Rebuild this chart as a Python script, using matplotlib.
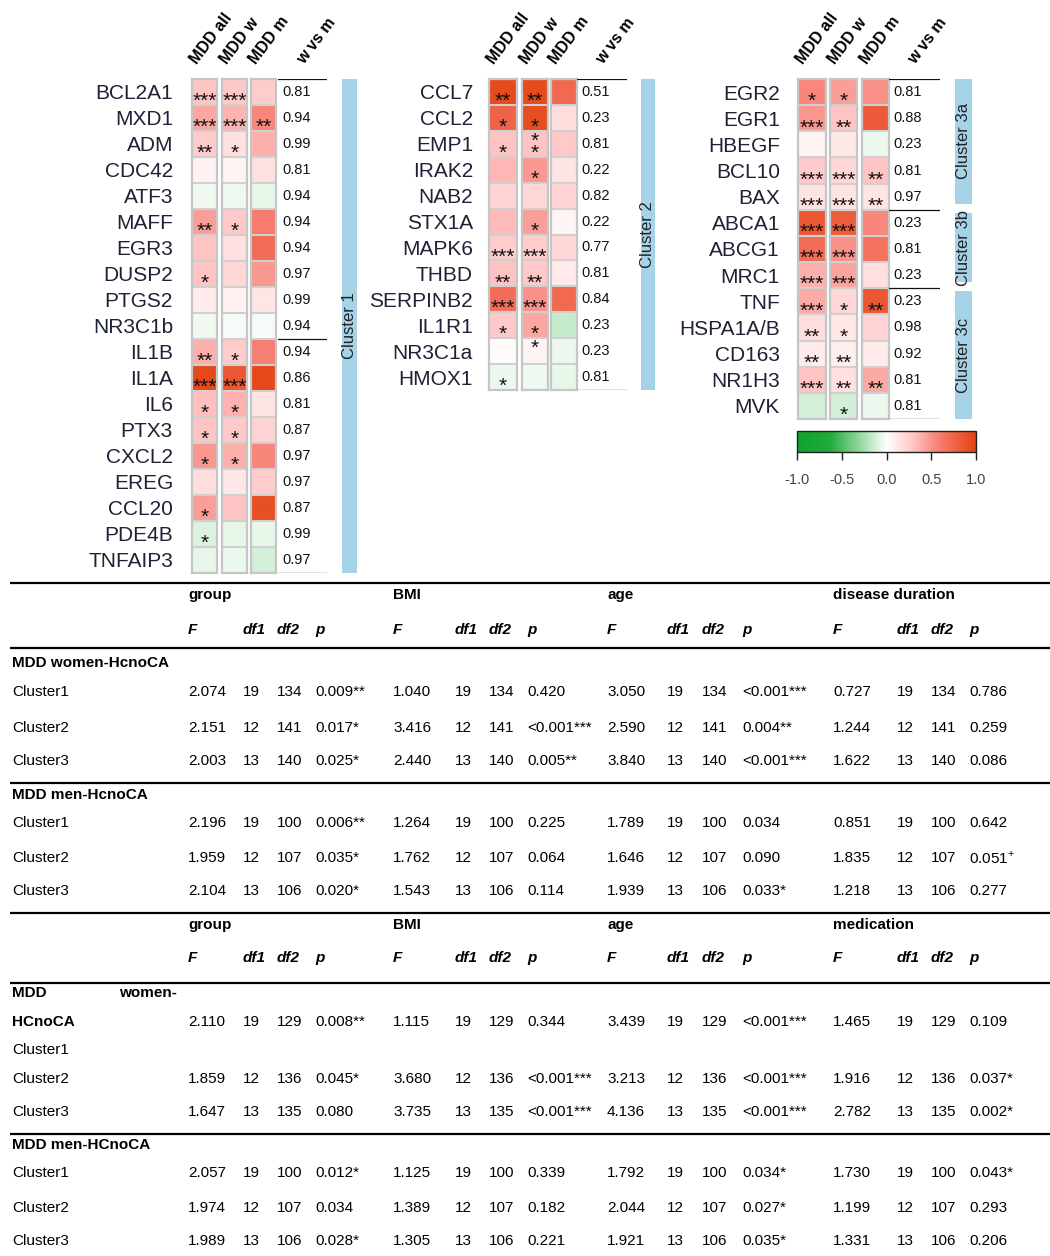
import numpy as np
import matplotlib
matplotlib.use("Agg")
import matplotlib.pyplot as plt
from matplotlib.colors import LinearSegmentedColormap, Normalize
from matplotlib.cm import ScalarMappable
from matplotlib.transforms import ScaledTranslation

plt.rcParams['font.family'] = ['Liberation Sans', 'DejaVu Sans']
plt.rcParams['mathtext.fontset'] = 'custom'
plt.rcParams['mathtext.rm'] = 'Liberation Sans'

# ---------------------------------------------------------------- data
conditions = ['MDD all', 'MDD w', 'MDD m', 'w vs m']

c1_genes = ['BCL2A1', 'MXD1', 'ADM', 'CDC42', 'ATF3', 'MAFF', 'EGR3', 'DUSP2', 'PTGS2',
            'NR3C1b', 'IL1B', 'IL1A', 'IL6', 'PTX3', 'CXCL2', 'EREG', 'CCL20', 'PDE4B', 'TNFAIP3']
c1_all = [0.30, 0.42, 0.25, 0.07, -0.04, 0.45, 0.30, 0.30, 0.10, -0.04,
          0.38, 0.95, 0.32, 0.30, 0.48, 0.17, 0.45, -0.10, -0.07]
c1_w = [0.28, 0.36, 0.15, 0.05, -0.04, 0.27, 0.16, 0.20, 0.07, -0.03,
        0.25, 0.85, 0.37, 0.27, 0.38, 0.12, 0.30, -0.07, -0.05]
c1_m = [0.25, 0.55, 0.38, 0.15, -0.07, 0.60, 0.70, 0.48, 0.13, -0.03,
        0.58, 0.95, 0.14, 0.22, 0.55, 0.25, 0.90, -0.06, -0.12]
c1_sig_all = ['***', '***', '**', '', '', '**', '', '*', '', '', '**', '***', '*', '*', '*', '', '*', '*', '']
c1_sig_w = ['***', '***', '*', '', '', '*', '', '', '', '', '*', '***', '*', '*', '*', '', '', '', '']
c1_sig_m = ['', '**', '', '', '', '', '', '', '', '', '', '', '', '', '', '', '', '', '']
c1_wvm = ['0.81', '0.94', '0.99', '0.81', '0.94', '0.94', '0.94', '0.97', '0.99', '0.94',
          '0.94', '0.86', '0.81', '0.87', '0.97', '0.97', '0.87', '0.99', '0.97']
c1_groups = [('Cluster 1', 0, 19)]
c1_breaks = [10]

c2_genes = ['CCL7', 'CCL2', 'EMP1', 'IRAK2', 'NAB2', 'STX1A', 'MAPK6', 'THBD', 'SERPINB2',
            'IL1R1', 'NR3C1a', 'HMOX1']
c2_all = [0.93, 0.75, 0.30, 0.35, 0.22, 0.33, 0.25, 0.30, 0.68, 0.27, 0.02, -0.05]
c2_w = [0.93, 0.92, 0.30, 0.48, 0.20, 0.45, 0.25, 0.27, 0.50, 0.42, 0.05, -0.04]
c2_m = [0.72, 0.17, 0.27, 0.14, 0.22, 0.05, 0.20, 0.10, 0.72, -0.15, -0.05, -0.06]
c2_sig_all = ['**', '*', '*', '', '', '', '***', '**', '***', '*', '', '*']
c2_sig_w = ['**', '*', '*\n*', '*', '', '*', '***', '**', '***', '*', '*\n', '']
c2_sig_m = [''] * 12
c2_wvm = ['0.51', '0.23', '0.81', '0.22', '0.82', '0.22', '0.77', '0.81', '0.84', '0.23', '0.23', '0.81']
c2_groups = [('Cluster 2', 0, 12)]
c2_breaks = []

c3_genes = ['EGR2', 'EGR1', 'HBEGF', 'BCL10', 'BAX', 'ABCA1', 'ABCG1', 'MRC1', 'TNF',
            'HSPA1A/B', 'CD163', 'NR1H3', 'MVK']
c3_all = [0.55, 0.48, 0.05, 0.27, 0.14, 0.85, 0.70, 0.38, 0.40, 0.17, 0.10, 0.30, -0.12]
c3_w = [0.45, 0.30, 0.11, 0.20, 0.14, 0.80, 0.50, 0.43, 0.20, 0.12, 0.08, 0.16, -0.12]
c3_m = [0.50, 0.82, -0.05, 0.30, 0.14, 0.55, 0.65, 0.16, 0.85, 0.22, 0.10, 0.40, -0.05]
c3_sig_all = ['*', '***', '', '***', '***', '***', '***', '***', '***', '**', '**', '***', '']
c3_sig_w = ['*', '**', '', '***', '***', '***', '***', '***', '*', '*', '**', '**', '*']
c3_sig_m = ['', '', '', '**', '**', '', '', '', '**', '', '', '**', '']
c3_wvm = ['0.81', '0.88', '0.23', '0.81', '0.97', '0.23', '0.81', '0.23', '0.23', '0.98', '0.92', '0.81', '0.81']
c3_groups = [('Cluster 3a', 0, 5), ('Cluster 3b', 5, 3), ('Cluster 3c', 8, 5)]
c3_breaks = [5, 8]

cbar_ticks = [-1.0, -0.5, 0.0, 0.5, 1.0]

# ANOVA tables: F, df1, df2, p for each covariate block
t1_factors = ['group', 'BMI', 'age', 'disease duration']
t1_women = [
    ['2.074', '19', '134', '0.009**', '1.040', '19', '134', '0.420', '3.050', '19', '134', '<0.001***', '0.727', '19', '134', '0.786'],
    ['2.151', '12', '141', '0.017*', '3.416', '12', '141', '<0.001***', '2.590', '12', '141', '0.004**', '1.244', '12', '141', '0.259'],
    ['2.003', '13', '140', '0.025*', '2.440', '13', '140', '0.005**', '3.840', '13', '140', '<0.001***', '1.622', '13', '140', '0.086'],
]
t1_men = [
    ['2.196', '19', '100', '0.006**', '1.264', '19', '100', '0.225', '1.789', '19', '100', '0.034', '0.851', '19', '100', '0.642'],
    ['1.959', '12', '107', '0.035*', '1.762', '12', '107', '0.064', '1.646', '12', '107', '0.090', '1.835', '12', '107', '0.051$^{+}$'],
    ['2.104', '13', '106', '0.020*', '1.543', '13', '106', '0.114', '1.939', '13', '106', '0.033*', '1.218', '13', '106', '0.277'],
]
t2_factors = ['group', 'BMI', 'age', 'medication']
t2_women = [
    ['2.110', '19', '129', '0.008**', '1.115', '19', '129', '0.344', '3.439', '19', '129', '<0.001***', '1.465', '19', '129', '0.109'],
    ['1.859', '12', '136', '0.045*', '3.680', '12', '136', '<0.001***', '3.213', '12', '136', '<0.001***', '1.916', '12', '136', '0.037*'],
    ['1.647', '13', '135', '0.080', '3.735', '13', '135', '<0.001***', '4.136', '13', '135', '<0.001***', '2.782', '13', '135', '0.002*'],
]
t2_men = [
    ['2.057', '19', '100', '0.012*', '1.125', '19', '100', '0.339', '1.792', '19', '100', '0.034*', '1.730', '19', '100', '0.043*'],
    ['1.974', '12', '107', '0.034', '1.389', '12', '107', '0.182', '2.044', '12', '107', '0.027*', '1.199', '12', '107', '0.293'],
    ['1.989', '13', '106', '0.028*', '1.305', '13', '106', '0.221', '1.921', '13', '106', '0.035*', '1.331', '13', '106', '0.206'],
]
row_names = ['Cluster1', 'Cluster2', 'Cluster3']
stat_names = ['F', 'df1', 'df2', 'p']

# ---------------------------------------------------------------- figure
W, H = 1050, 1256
fig = plt.figure(figsize=(W / 100, H / 100), dpi=100)


def px_axes(x0, y0, x1, y1):
    return fig.add_axes([x0 / W, 1 - y1 / H, (x1 - x0) / W, (y1 - y0) / H])


cmap = LinearSegmentedColormap.from_list('gwr', [
    (0.00, '#0ea32c'), (0.18, '#1faa3a'), (0.35, '#93d89d'), (0.50, '#ffffff'),
    (0.65, '#ffc4c4'), (0.80, '#f77b6e'), (1.00, '#e3420f')])
norm = Normalize(-1, 1)

# background axes for the statistics tables
tab = fig.add_axes([0, 0, 1, 1])
tab.set_xlim(0, W)
tab.set_ylim(H, 0)
tab.axis('off')

label_color = '#1f2236'
star_fs = 15


def draw_cluster(genes, cols, sigs, wvm, groups, breaks, lay):
    n = len(genes)
    top, bottom = lay['top'], lay['bottom']
    for j, ((x0, x1), vals, sig) in enumerate(zip(lay['cols'], cols, sigs)):
        ax = px_axes(x0, top, x1, bottom)
        ax.imshow(np.asarray(vals)[:, None], cmap=cmap, norm=norm,
                  aspect='auto', interpolation='nearest')
        ax.set_xticks([])
        ax.set_yticks(np.arange(n + 1) - 0.5, minor=True)
        ax.grid(which='minor', axis='y', color='#d0d0d0', lw=1.5)
        ax.tick_params(which='minor', length=0)
        if j == 0:
            ax.set_yticks(range(n))
            ax.set_yticklabels(genes, fontsize=15, color=label_color)
            ax.tick_params(axis='y', which='major', length=0,
                           pad=(x0 - lay['label_right']) * 0.72)
        else:
            ax.set_yticks([])
        for sp in ax.spines.values():
            sp.set_color('#c6c6c6')
            sp.set_linewidth(1.6)
        for i, s in enumerate(sig):
            if not s.strip():
                continue
            # the last line of a stacked mark sits on the cell's baseline
            ax.text(0, i + 0.58, s, ha='center', va='baseline',
                    fontsize=star_fs, color='#111111', linespacing=0.55)
        ax.text(0, 1, conditions[j], fontsize=11.5, fontweight='bold', rotation=53,
                rotation_mode='anchor', ha='left', va='baseline',
                transform=ax.transAxes + ScaledTranslation(0.05, 0.14, fig.dpi_scale_trans))

    # w vs m column
    wx0, wx1 = lay['wvm']
    ax = px_axes(wx0, top, wx1, bottom)
    ax.set_xlim(0, 1)
    ax.set_ylim(n - 0.5, -0.5)
    ax.axis('off')
    for i, v in enumerate(wvm):
        ax.text(0.08, i, v, ha='left', va='center', fontsize=10.5, color='#111111')
    for b in [0] + breaks + [n]:
        ax.axhline(b - 0.5, color='#111111', lw=0.9)
    ax.text(0, 1, conditions[3], fontsize=11.5, fontweight='bold', rotation=53,
            rotation_mode='anchor', ha='left', va='baseline',
            transform=ax.transAxes + ScaledTranslation(0.26, 0.14, fig.dpi_scale_trans))

    # cluster side bars
    bx0, bx1 = lay['bar']
    ax = px_axes(bx0, top, bx1, bottom)
    ax.set_xlim(-0.5, 0.5)
    ax.set_ylim(n - 0.5, -0.5)
    ax.axis('off')
    last = len(groups) - 1
    for k, (name, start, size) in enumerate(groups):
        lo = start - 0.5 + (0.12 if k > 0 else -0.06)
        hi = start + size - 0.5 - (0.22 if k < last else -0.04)
        ax.bar(0, hi - lo, bottom=lo, width=1, color='#a7d3e8')
        ax.text(0, (lo + hi) / 2, name, rotation=90, ha='center', va='center',
                fontsize=12, color='#222222')


draw_cluster(c1_genes, [c1_all, c1_w, c1_m], [c1_sig_all, c1_sig_w, c1_sig_m], c1_wvm,
             c1_groups, c1_breaks,
             dict(top=79, bottom=573, cols=[(192, 217), (222, 247), (251, 276)],
                  wvm=(278, 327), bar=(342, 357), label_right=173))
draw_cluster(c2_genes, [c2_all, c2_w, c2_m], [c2_sig_all, c2_sig_w, c2_sig_m], c2_wvm,
             c2_groups, c2_breaks,
             dict(top=79, bottom=390, cols=[(489, 517), (522, 548), (551, 577)],
                  wvm=(577, 627), bar=(641, 655), label_right=473))
draw_cluster(c3_genes, [c3_all, c3_w, c3_m], [c3_sig_all, c3_sig_w, c3_sig_m], c3_wvm,
             c3_groups, c3_breaks,
             dict(top=79, bottom=419, cols=[(798, 826), (830, 857), (862, 889)],
                  wvm=(889, 940), bar=(955, 972), label_right=780))

# colour key
cax = px_axes(797, 431, 976, 452)
cb = fig.colorbar(ScalarMappable(norm=norm, cmap=cmap), cax=cax, orientation='horizontal',
                  ticks=cbar_ticks)
cb.outline.set_linewidth(1.0)
cb.outline.set_edgecolor('#222222')
cax.tick_params(length=6, width=1.0, color='#222222', labelsize=10.5,
                labelcolor='#444444', pad=9)
cax.set_xticklabels([f'{t:.1f}' for t in cbar_ticks])

# ---------------------------------------------------------------- tables
f_x = [188, 393, 607, 833]
df1_x = [243, 455, 667, 897]
df2_x = [277, 489, 702, 931]
p_x = [315, 527, 742, 969]
col_x = [x for blk in zip(f_x, df1_x, df2_x, p_x) for x in blk]
fs = 11


def header(y_title, y_stats, factors):
    for x, name in zip(f_x, factors):
        tab.text(x, y_title, name, fontsize=fs, fontweight='bold', va='center', ha='left')
    for b in range(4):
        for x, s in zip([f_x[b], df1_x[b], df2_x[b], p_x[b]], stat_names):
            tab.text(x, y_stats, s, fontsize=fs, fontweight='bold', fontstyle='italic',
                     va='center', ha='left')


def value_row(y, vals, name=None):
    if name:
        tab.text(12, y, name, fontsize=fs, va='center', ha='left')
    for x, v in zip(col_x, vals):
        tab.text(x, y, v, fontsize=fs, va='center', ha='left')


for y in [583, 648, 783, 913, 983, 1134]:
    tab.plot([10, 1050], [y, y], color='black', lw=1.6, solid_capstyle='butt')

# table 1
header(595, 630, t1_factors)
tab.text(12, 663, 'MDD women-HcnoCA', fontsize=fs, fontweight='bold', va='center')
for y, name, vals in zip([692, 728, 761], row_names, t1_women):
    value_row(y, vals, name)
tab.text(12, 795, 'MDD men-HcnoCA', fontsize=fs, fontweight='bold', va='center')
for y, name, vals in zip([823, 858, 891], row_names, t1_men):
    value_row(y, vals, name)

# table 2
header(925, 958, t2_factors)
tab.text(12, 993, 'MDD', fontsize=fs, fontweight='bold', va='center')
tab.text(177, 993, 'women-', fontsize=fs, fontweight='bold', va='center', ha='right')
tab.text(12, 1022, 'HCnoCA', fontsize=fs, fontweight='bold', va='center')
value_row(1022, t2_women[0])
tab.text(12, 1050, row_names[0], fontsize=fs, va='center')
for y, name, vals in zip([1079, 1112], row_names[1:], t2_women[1:]):
    value_row(y, vals, name)
tab.text(12, 1145, 'MDD men-HCnoCA', fontsize=fs, fontweight='bold', va='center')
for y, name, vals in zip([1173, 1208, 1241], row_names, t2_men):
    value_row(y, vals, name)

fig.savefig('out.png', dpi=100)
